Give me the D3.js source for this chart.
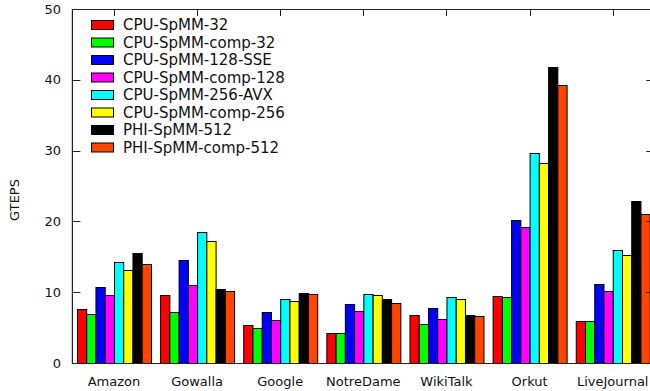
<!DOCTYPE html>
<html>
<head>
<meta charset="utf-8">
<script src="https://cdn.jsdelivr.net/npm/d3@7"></script>
<style>
  body { margin: 0; background: #fff; }
  svg { display: block; font-family: 'DejaVu Sans', sans-serif; }
</style>
</head>
<body>
<svg id="chart" width="650" height="391"></svg>
<script>
const categories = ['Amazon', 'Gowalla', 'Google', 'NotreDame', 'WikiTalk', 'Orkut', 'LiveJournal']
const seriesNames = [
  'CPU-SpMM-32', 'CPU-SpMM-comp-32', 'CPU-SpMM-128-SSE', 'CPU-SpMM-comp-128',
  'CPU-SpMM-256-AVX', 'CPU-SpMM-comp-256', 'PHI-SpMM-512', 'PHI-SpMM-comp-512',
]
const seriesColors = ['#ff0000', '#00ff00', '#0000ff', '#ff00ff', '#00ffff', '#ffff00', '#000000', '#ff4500']

// one array per series, in category order
const cpu32 = [7.6, 9.6, 5.3, 4.2, 6.8, 9.4, 5.9]
const cpuComp32 = [6.9, 7.2, 5.0, 4.2, 5.5, 9.3, 5.9]
const cpu128 = [10.8, 14.5, 7.2, 8.4, 7.7, 20.2, 11.1]
const cpuComp128 = [9.6, 11.0, 6.1, 7.4, 6.2, 19.2, 10.2]
const cpu256 = [14.2, 18.5, 9.0, 9.8, 9.3, 29.6, 15.9]
const cpuComp256 = [13.2, 17.3, 8.7, 9.6, 9.0, 28.3, 15.2]
const phi512 = [15.6, 10.5, 9.9, 9.1, 6.8, 41.8, 22.9]
const phiComp512 = [14.0, 10.1, 9.7, 8.5, 6.6, 39.2, 21.0]
const seriesValues = [cpu32, cpuComp32, cpu128, cpuComp128, cpu256, cpuComp256, phi512, phiComp512]

const yTicks = [0, 10, 20, 30, 40, 50]

const plotLeft = 72.4
const plotRight = 654.3
const plotTop = 9
const plotBottom = 363

const svg = d3.select('#chart')

const x = d3.scaleBand()
  .domain(categories)
  .range([plotLeft, plotRight])
  .paddingInner(0.11)
  .paddingOuter(0.055)

const xInner = d3.scaleBand()
  .domain(d3.range(seriesNames.length))
  .range([0, x.bandwidth()])

const y = d3.scaleLinear().domain([0, 50]).range([plotBottom, plotTop])

// bars
const groups = svg.append('g')
  .selectAll('g')
  .data(categories)
  .join('g')
  .attr('transform', (d) => `translate(${x(d)},0)`)

groups.selectAll('rect')
  .data((d, ci) => seriesValues.map((vals, si) => ({ si, v: vals[ci] })))
  .join('rect')
  .attr('x', (d) => xInner(d.si) + 0.5)
  .attr('y', (d) => Math.round(y(d.v)) + 0.5)
  .attr('width', xInner.bandwidth())
  .attr('height', (d) => plotBottom - Math.round(y(d.v)))
  .attr('fill', (d) => seriesColors[d.si])
  .attr('stroke', '#000')
  .attr('stroke-width', 1)

// border
const axisColor = '#222'
svg.append('path')
  .attr('d', `M${plotRight},${plotTop + 0.5}H${plotLeft}V${plotBottom + 0.5}H${plotRight}`)
  .attr('fill', 'none')
  .attr('stroke', axisColor)
  .attr('stroke-width', 1.2)

// y ticks (left inward + mirrored right)
const yAxis = svg.append('g')
yAxis.selectAll('line.l')
  .data(yTicks)
  .join('line')
  .attr('class', 'l')
  .attr('x1', plotLeft).attr('x2', plotLeft + 8)
  .attr('y1', (d) => Math.round(y(d)) + 0.5).attr('y2', (d) => Math.round(y(d)) + 0.5)
  .attr('stroke', axisColor)
yAxis.selectAll('line.r')
  .data(yTicks)
  .join('line')
  .attr('class', 'r')
  .attr('x1', plotRight).attr('x2', plotRight - 8)
  .attr('y1', (d) => Math.round(y(d)) + 0.5).attr('y2', (d) => Math.round(y(d)) + 0.5)
  .attr('stroke', axisColor)
yAxis.selectAll('text')
  .data(yTicks)
  .join('text')
  .attr('x', 61)
  .attr('y', (d) => y(d))
  .attr('dy', '0.35em')
  .attr('text-anchor', 'end')
  .attr('font-size', 13)
  .attr('fill', '#111')
  .text((d) => d)

// x ticks on top (mirrored), labels below
const xAxis = svg.append('g')
xAxis.selectAll('line')
  .data(categories)
  .join('line')
  .attr('x1', (d) => Math.round(x(d) + x.bandwidth() / 2) + 0.5)
  .attr('x2', (d) => Math.round(x(d) + x.bandwidth() / 2) + 0.5)
  .attr('y1', plotTop).attr('y2', plotTop + 7)
  .attr('stroke', axisColor)
xAxis.selectAll('text')
  .data(categories)
  .join('text')
  .attr('x', (d) => x(d) + x.bandwidth() / 2)
  .attr('y', 386)
  .attr('text-anchor', 'middle')
  .attr('font-size', 13)
  .attr('fill', '#111')
  .text((d) => d)

// y label
svg.append('text')
  .attr('transform', 'translate(19,200) rotate(-90)')
  .attr('text-anchor', 'middle')
  .attr('font-size', 13)
  .attr('fill', '#111')
  .text('GTEPS')

// legend
const legend = svg.append('g')
  .selectAll('g')
  .data(seriesNames)
  .join('g')
  .attr('transform', (d, i) => `translate(91,${25 + i * 17.5})`)
legend.append('rect')
  .attr('x', 0.5).attr('y', -4.5)
  .attr('width', 22).attr('height', 9)
  .attr('fill', (d, i) => seriesColors[i])
  .attr('stroke', '#000')
legend.append('text')
  .attr('x', 32)
  .attr('y', 0)
  .attr('dy', '0.35em')
  .attr('font-size', 15)
  .attr('fill', '#111')
  .text((d) => d)
</script>
</body>
</html>
